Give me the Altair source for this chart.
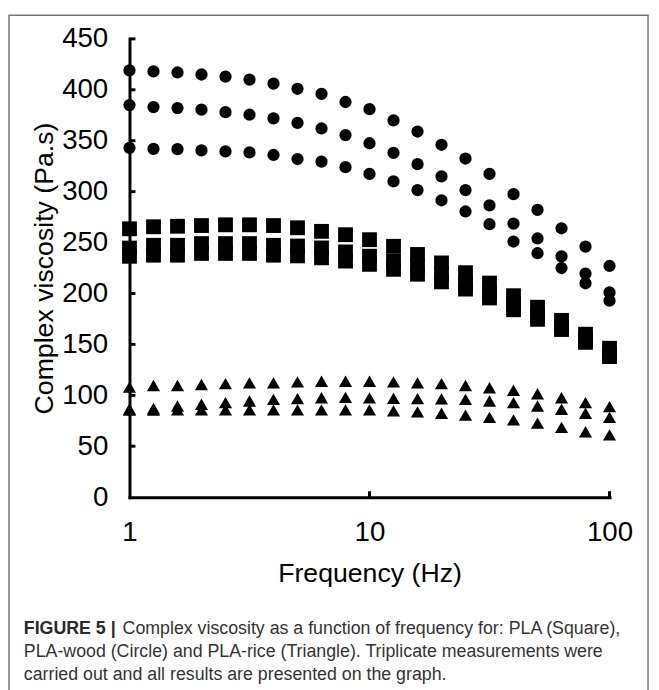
import altair as alt
import pandas as pd

# ---- data ----
freq = [1, 1.259, 1.585, 1.995, 2.512, 3.162, 3.981, 5.012, 6.310, 7.943, 10,
        12.59, 15.85, 19.95, 25.12, 31.62, 39.81, 50.12, 63.10, 79.43, 100]

wood_1 = [419, 418, 417, 415, 413, 410, 406, 401, 396, 388, 381,
          370, 359, 346, 332.5, 317.5, 297.5, 282, 264, 246, 227]
wood_2 = [385, 383, 382, 380.5, 378, 375.5, 372, 367.5, 362, 355.5, 347.5,
          338, 327, 315, 301.5, 286.5, 268.5, 254, 236.5, 219.5, 201]
wood_3 = [343, 342, 341.7, 340.5, 339.5, 338.5, 336, 332, 329.5, 324, 317.4,
          310, 301.5, 291.5, 280.5, 268, 251, 239.5, 225, 210, 193]

pla_1 = [263.5, 265.5, 266, 266.7, 267.4, 267.4, 266.7, 264.5, 261, 257.7, 252.8,
         246.3, 238.3, 230, 220.4, 210.2, 197.8, 186.5, 173.6, 160, 146.2]
pla_2 = [244.6, 247.3, 247.3, 249, 249, 249, 247.3, 246.6, 244.7, 240.8, 236.6,
         231.8, 226.9, 218.9, 209.2, 200.1, 189.8, 178.5, 167.1, 154.2, 141.3]
pla_3 = [236.5, 237.6, 237.6, 239.3, 239.3, 239.3, 237.6, 236.9, 235, 231.8, 228.6,
         223.7, 218.9, 211.4, 204.3, 195.6, 184, 174.6, 164.6, 152, 138]

rice_1 = [108, 109.6, 109.6, 110.6, 111.5, 112.2, 112.2, 113.2, 113.8, 113.8, 113.8,
          113.2, 112.2, 111.5, 109.6, 107.4, 105, 101.5, 97.6, 92.8, 88.9]
rice_2 = [86.5, 87, 89.5, 91.2, 92.8, 94.4, 96, 96.7, 97.6, 98, 97.5,
          97, 96.7, 96.5, 96, 94.4, 92.8, 89.5, 86.3, 82.4, 78.3]
rice_3 = [85.5, 85.5, 85.7, 85.7, 85.7, 85.7, 85.7, 85.7, 85.7, 85.7, 85.7,
          84.7, 83.7, 82.4, 80.5, 78.3, 75.9, 72.7, 68.5, 64.2, 61.1]

y_ticks = [0, 50, 100, 150, 200, 250, 300, 350, 400, 450]
x_ticks = [1, 10, 100]

x_title = "Frequency (Hz)"
y_title = "Complex viscosity (Pa.s)"
cap_bold = "FIGURE 5 |"
cap_line1 = "Complex viscosity as a function of frequency for: PLA (Square),"
cap_line2 = "PLA-wood (Circle) and PLA-rice (Triangle). Triplicate measurements were"
cap_line3 = "carried out and all results are presented on the graph."

# ---- build table ----
rows = []
for mat, series in [("PLA", [pla_1, pla_2, pla_3]),
                    ("PLA-wood", [wood_1, wood_2, wood_3]),
                    ("PLA-rice", [rice_1, rice_2, rice_3])]:
    for r, s in enumerate(series):
        for f, v in zip(freq, s):
            rows.append({"freq": f, "visc": v, "material": mat, "rep": r + 1})
df = pd.DataFrame(rows)

W, H = 486, 464
FONT = "Liberation Sans"
xs = alt.Scale(type="log", domain=[1, 100], nice=False)
ys = alt.Scale(domain=[0, 450], nice=False)

x_axis = alt.Axis(values=x_ticks, format="d", grid=False, ticks=False, tickSize=0,
                  domainColor="black", domainWidth=3, domainCap="square",
                  labelFont=FONT, labelFontSize=28, labelColor="black", labelPadding=22,
                  labelFlush=False,
                  title=x_title, titleFont=FONT, titleFontSize=27, titleFontWeight="normal",
                  titleColor="black", titleY=77, titleBaseline="middle")
y_axis = alt.Axis(values=y_ticks, grid=False, ticks=False, tickSize=0,
                  domainColor="black", domainWidth=3, domainCap="square",
                  labelFont=FONT, labelFontSize=28, labelColor="black", labelPadding=22,
                  labelFlush=False,
                  title=y_title, titleFont=FONT, titleFontSize=27, titleFontWeight="normal",
                  titleColor="black", titleX=-86, titleY=H / 2, titleAngle=270,
                  titleBaseline="middle", titleAlign="center")

base = alt.Chart(df)
layers = []
for mat, shape, size in [("PLA", "square", 225), ("PLA-wood", "circle", 154),
                         ("PLA-rice", "triangle-up", 177)]:
    layers.append(
        base.transform_filter(alt.datum.material == mat)
        .mark_point(filled=True, opacity=1, color="black", shape=shape, size=size,
                    strokeWidth=0)
        .encode(x=alt.X("freq:Q", scale=xs, axis=x_axis, title=x_title),
                y=alt.Y("visc:Q", scale=ys, axis=y_axis, title=y_title))
    )

# inward tick marks (same axis definitions so the merged axes stay identical)
yt = alt.Chart(pd.DataFrame({"visc": y_ticks[1:]})).mark_rule(color="black", strokeWidth=3).encode(
    y=alt.Y("visc:Q", scale=ys, axis=y_axis, title=y_title), x=alt.value(0), x2=alt.value(6))
xt = alt.Chart(pd.DataFrame({"freq": x_ticks[1:]})).mark_rule(color="black", strokeWidth=3).encode(
    x=alt.X("freq:Q", scale=xs, axis=x_axis, title=x_title), y=alt.value(H), y2=alt.value(H - 6))

one = pd.DataFrame({"a": [0]})
frame = alt.Chart(one).mark_rect(fillOpacity=0, stroke="#777777", strokeWidth=1.5).encode(
    x=alt.value(-122), x2=alt.value(525), y=alt.value(-24), y2=alt.value(700))

cap_y = [598, 621, 644]
cap_b = alt.Chart(one).mark_text(align="left", baseline="middle", font=FONT, fontSize=18,
                                 fontWeight="bold", color="#2a2a2a").encode(
    x=alt.value(-107), y=alt.value(cap_y[0]), text=alt.value(cap_bold))
cap_texts = []
for xv, yv, t in [(-7, cap_y[0], cap_line1), (-107, cap_y[1], cap_line2), (-107, cap_y[2], cap_line3)]:
    cap_texts.append(alt.Chart(one).mark_text(align="left", baseline="middle", font=FONT,
                                              fontSize=18, color="#333333").encode(
        x=alt.value(xv), y=alt.value(yv), text=alt.value(t)))

chart = alt.layer(*layers, yt, xt, frame, cap_b, *cap_texts).properties(
    width=W, height=H, autosize=alt.AutoSizeParams(type="none"),
    padding={"left": 123, "top": 27, "right": 42, "bottom": 191},
    background="white"
).configure_view(strokeWidth=0)

chart.save("out.html", embed_options={"renderer": "svg", "actions": False})
